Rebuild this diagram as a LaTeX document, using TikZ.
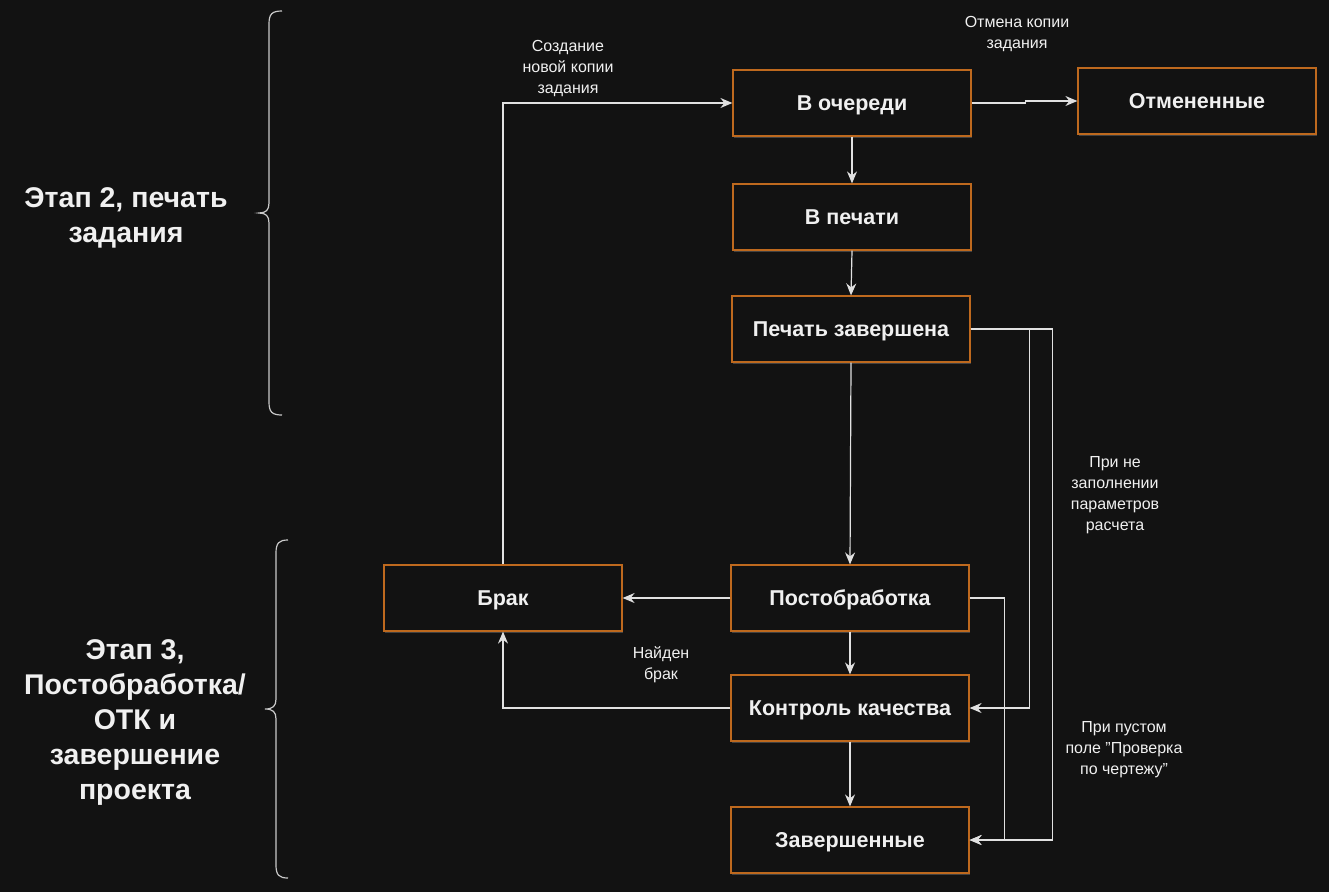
\documentclass[tikz,border=0pt]{standalone}
\usepackage{fontspec}
\setmainfont{Liberation Sans}
\usetikzlibrary{arrows.meta,shadows,calc}
\definecolor{bg}{RGB}{18,18,18}
\definecolor{boxedge}{RGB}{190,105,30}
\definecolor{txt}{RGB}{240,240,240}
\definecolor{ln}{RGB}{225,225,225}
\tikzset{
  stbox/.style={draw=boxedge, line width=1.2pt, fill=bg, minimum width=238pt, minimum height=66pt,
    text=txt, font=\fontsize{21.5}{24}\selectfont\bfseries, inner sep=0pt,
    text height=15.5pt, text depth=0pt,
    drop shadow={shadow xshift=1pt, shadow yshift=-1.5pt, fill=white, opacity=0.2}},
  conn/.style={draw=ln, line width=1.2pt, -{Stealth[length=12pt,width=10pt,inset=4pt]}},
  lbl/.style={text=txt, font=\fontsize{16}{21}\selectfont, align=center, inner sep=0pt},
  stage/.style={text=txt, font=\fontsize{28.5}{35}\selectfont\bfseries, align=center, inner sep=0pt},
  brace/.style={draw=ln!90!black, line width=1.2pt}
}
\begin{document}
\begin{tikzpicture}[x=1pt,y=-1pt]
\fill[bg] (0,0) rectangle (1329,892);
\useasboundingbox (0,0) rectangle (1329,892);

\node[stbox] (q) at (852,103) {В очереди};
\node[stbox] (c) at (1197,101) {Отмененные};
\node[stbox] (v) at (852,217) {В печати};
\node[stbox] (p) at (851,329) {Печать завершена};
\node[stbox] (b) at (503,598) {Брак};
\node[stbox] (po) at (850,598) {Постобработка};
\node[stbox] (k) at (850,708) {Контроль качества};
\node[stbox] (z) at (850,840) {Завершенные};

\draw[conn] (q.east) -- ++(54,0) |- (c.west);
\draw[conn] (q.south) -- (v.north);
\draw[conn] (v.south) -- (p.north);
\draw[conn] (p.south) -- (po.north);
\draw[conn] (po.west) -- (b.east);
\draw[conn] (po.south) -- (k.north);
\draw[conn] (k.south) -- (z.north);
\draw[conn] (k.west) -| (b.south);
\draw[conn] (b.north) |- (q.west);
\draw[conn] (p.east) -- ++(59,0) |- (k.east);
\draw[conn] (p.east) -- ++(82,0) |- (z.east);
\draw[conn] (po.east) -- ++(35,0) |- (z.east);

\node[lbl] (l1) at (1017,34) {Отмена копии\\задания};
\node[lbl] (l2) at (568,69) {Создание\\новой копии\\задания};
\node[lbl] (l3) at (661,665) {Найден\\брак};
\node[lbl] (l4) at (1115,495) {При не\\заполнении\\параметров\\расчета};
\node[lbl] (l5) at (1124,750) {При пустом\\поле {\char34}Проверка\\по чертежу{\char34}};

\node[stage] (s2) at (126,218) {Этап 2, печать\\задания};
\node[stage] (s3) at (135,722) {Этап 3,\\Постобработка/\\ОТК и\\завершение\\проекта};

\draw[brace] (282,11) .. controls (272,11) and (269,14) .. (269,24) -- (269,203)
  .. controls (269,210) and (266,213) .. (259,213)
  .. controls (266,213) and (269,216) .. (269,223) -- (269,402)
  .. controls (269,412) and (272,415) .. (282,415);
\draw[brace] (288,540) .. controls (279,540) and (276,543) .. (276,553) -- (276,699)
  .. controls (276,706) and (273,709) .. (265,709)
  .. controls (273,709) and (276,712) .. (276,719) -- (276,865)
  .. controls (276,875) and (279,878) .. (288,878);
\end{tikzpicture}
\end{document}
